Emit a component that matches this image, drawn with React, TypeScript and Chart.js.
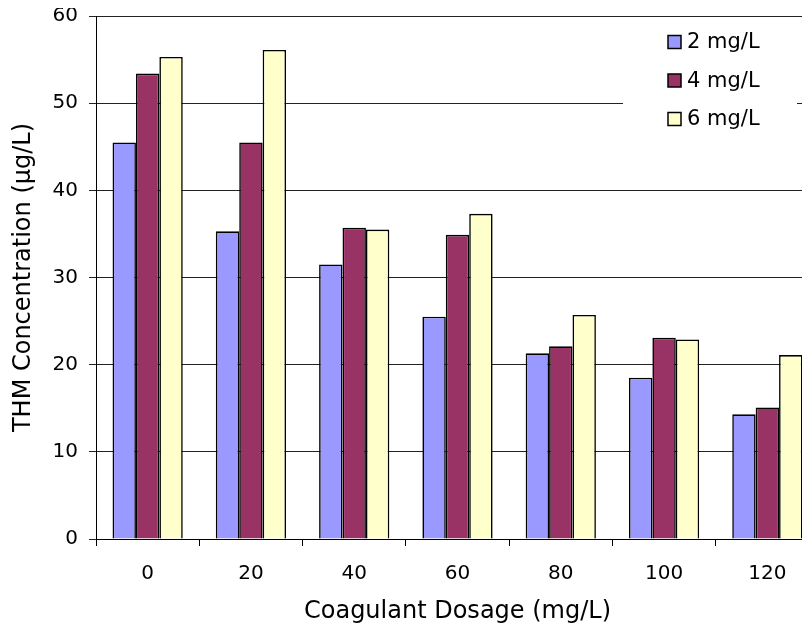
import React, { useEffect, useRef } from "react";
import { Chart, registerables } from "chart.js";

Chart.register(...registerables);

const categories = ["0", "20", "40", "60", "80", "100", "120"];
const series2 = [45.5, 35.3, 31.5, 25.5, 21.3, 18.5, 14.3];
const series4 = [53.4, 45.5, 35.7, 34.9, 22.1, 23.1, 15.1];
const series6 = [55.3, 56.1, 35.5, 37.3, 25.7, 22.9, 21.1];
const seriesLabels = ["2 mg/L", "4 mg/L", "6 mg/L"];
const yTicks = [0, 10, 20, 30, 40, 50, 60];

const FONT = '"DejaVu Sans", "Liberation Sans", Arial, sans-serif';

const legendPlugin = {
  id: "boxLegend",
  afterDraw(chart: any) {
    const ctx = chart.ctx;
    const area = chart.chartArea;
    const bx = 615;
    const by = area.top + 6;
    const bw = 174;
    const bh = 118;
    ctx.save();
    ctx.fillStyle = "#ffffff";
    ctx.fillRect(bx, by, bw, bh);
    ctx.font = `21px ${FONT}`;
    ctx.textBaseline = "middle";
    ctx.textAlign = "left";
    chart.data.datasets.forEach((ds: any, i: number) => {
      const cy = area.top + 26 + i * 38.5;
      const sx = bx + 45;
      ctx.fillStyle = ds.backgroundColor;
      ctx.fillRect(sx, cy - 6.5, 13, 13);
      ctx.strokeStyle = "#000";
      ctx.lineWidth = 1.5;
      ctx.strokeRect(sx, cy - 6.5, 13, 13);
      ctx.fillStyle = "#000";
      ctx.fillText(ds.label, sx + 19, cy + 1);
    });
    ctx.restore();
  },
};

export default function App() {
  const ref = useRef<HTMLCanvasElement | null>(null);

  useEffect(() => {
    if (!ref.current) return;
    const chart = new Chart(ref.current, {
      type: "bar",
      data: {
        labels: categories,
        datasets: [
          { label: seriesLabels[0], data: series2, backgroundColor: "#9999FF" },
          { label: seriesLabels[1], data: series4, backgroundColor: "#993366" },
          { label: seriesLabels[2], data: series6, backgroundColor: "#FFFFCC" },
        ].map((d) => ({
          ...d,
          borderColor: "#000000",
          borderWidth: 1.6,
          categoryPercentage: 0.68,
          barPercentage: 1,
        })),
      },
      options: {
        responsive: false,
        animation: false,
        devicePixelRatio: 1,
        layout: { padding: { top: 8, left: 0, right: 0, bottom: 0 } },
        plugins: {
          legend: { display: false },
          tooltip: { enabled: false },
        },
        scales: {
          x: {
            grid: {
              offset: true,
              drawOnChartArea: false,
              drawTicks: true,
              tickLength: 7,
              color: "#000",
            },
            border: { display: true, color: "#000", width: 1 },
            ticks: {
              color: "#000",
              font: { family: FONT, size: 20 },
              padding: 16,
              maxRotation: 0,
            },
            title: {
              display: true,
              text: "Coagulant Dosage (mg/L)",
              color: "#000",
              font: { family: FONT, size: 24 },
              padding: { top: 0, bottom: 8 },
            },
            afterFit(scale: any) {
              scale.height = 95;
              scale.paddingLeft = 0;
              scale.paddingRight = 0;
            },
          },
          y: {
            min: 0,
            max: 60,
            afterBuildTicks(scale: any) {
              scale.ticks = yTicks.map((v) => ({ value: v }));
            },
            grid: {
              color: "#222",
              lineWidth: 1,
              drawTicks: true,
              tickLength: 7,
            },
            border: { display: true, color: "#000", width: 1 },
            ticks: {
              color: "#000",
              font: { family: FONT, size: 20 },
              padding: 11,
            },
            title: {
              display: true,
              text: "THM Concentration (µg/L)",
              color: "#000",
              font: { family: FONT, size: 24 },
              padding: { top: 1, bottom: 0 },
            },
            afterFit(scale: any) {
              scale.width = 88;
              scale.paddingTop = 0;
              scale.paddingBottom = 0;
            },
          },
        },
      },
      plugins: [legendPlugin],
    } as any);
    return () => chart.destroy();
  }, []);

  return (
    <div style={{ width: 802, height: 626, overflow: "hidden" }}>
      <canvas
        ref={ref}
        width={811}
        height={626}
        style={{ display: "block", width: 811, height: 626 }}
      />
    </div>
  );
}
